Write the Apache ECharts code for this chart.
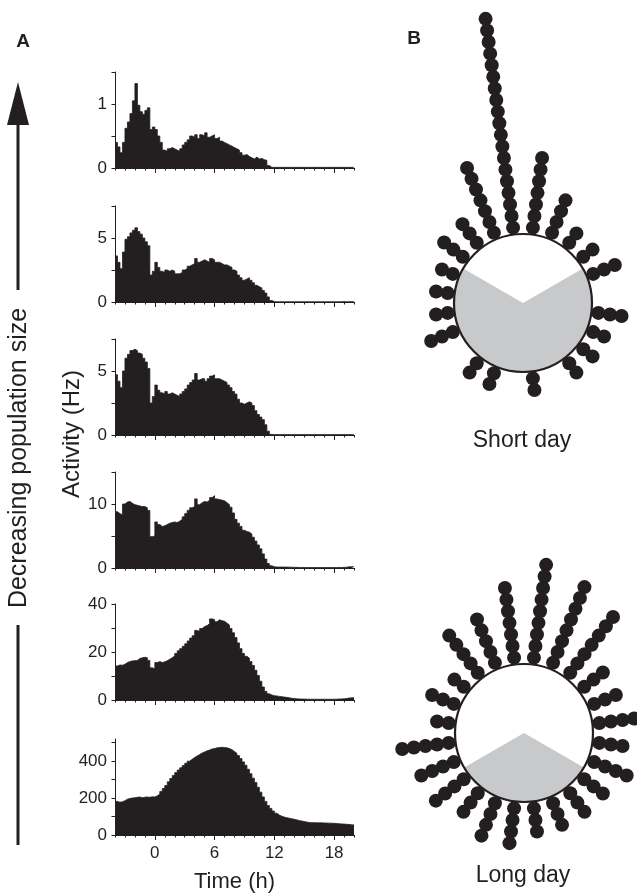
<!DOCTYPE html>
<html><head><meta charset="utf-8">
<script src="https://cdn.jsdelivr.net/npm/echarts@6/dist/echarts.min.js"></script>
<style>html,body{margin:0;padding:0;background:#fff}#c{width:637px;height:894px}</style>
</head><body><div id="c"></div>
<script>
// ---------- DATA ----------
const binStart = -4;          // h, first histogram bin edge
const binWidth = 0.25;        // h
const xTickLabels = [0, 6, 12, 18];

// Activity (Hz), panels top (smallest population) to bottom (largest)
const act1 = [0.40,0.33,0.24,0.40,0.62,0.72,0.85,1.05,1.32,0.98,0.88,0.84,0.90,0.94,0.60,0.64,
  0.60,0.50,0.40,0.28,0.26,0.30,0.32,0.30,0.28,0.26,0.30,0.36,0.40,0.44,0.50,0.48,
  0.52,0.46,0.52,0.50,0.55,0.48,0.50,0.52,0.46,0.48,0.42,0.40,0.38,0.36,0.34,0.32,
  0.30,0.28,0.24,0.20,0.21,0.18,0.16,0.14,0.17,0.14,0.15,0.13,0.12,0.04,0.01,0.01,
  0.01,0.01,0.01,0.01,0.01,0.01,0.01,0.01,0.01,0.01,0.01,0.01,0.01,0.01,0.01,0.01,
  0.01,0.01,0.01,0.01,0.01,0.01,0.01,0.01,0.01,0.01,0.01,0.01,0.01,0.01,0.01,0.01];
const act2 = [3.6,3.1,2.6,3.9,4.9,5.1,5.4,5.6,5.8,5.5,5.3,5.0,4.7,4.4,2.1,2.4,
  3.1,2.7,2.4,2.3,2.5,2.4,2.5,2.4,2.2,2.2,2.3,2.5,2.6,2.8,2.9,3.0,
  3.4,3.1,3.2,3.3,3.2,3.1,3.4,3.3,3.1,3.1,3.0,2.9,2.9,2.8,2.7,2.5,
  2.4,2.1,1.9,1.7,1.8,1.9,1.7,1.5,1.3,1.2,1.1,0.9,0.7,0.4,0.12,0.03,
  0.02,0.02,0.02,0.02,0.02,0.02,0.02,0.02,0.02,0.02,0.02,0.02,0.02,0.02,0.02,0.02,
  0.02,0.02,0.02,0.02,0.02,0.02,0.02,0.02,0.02,0.02,0.02,0.03,0.02,0.02,0.03,0.02];
const act3 = [4.7,4.2,3.7,5.0,6.0,6.3,6.6,6.7,6.6,6.4,6.3,6.0,5.7,5.2,2.5,3.0,
  3.9,3.5,3.3,3.2,3.4,3.2,3.3,3.2,3.1,3.0,3.2,3.4,3.6,3.9,4.1,4.3,
  4.8,4.3,4.4,4.4,4.2,4.4,4.6,4.7,4.4,4.4,4.3,4.2,4.1,3.9,3.7,3.4,
  3.2,2.8,2.5,2.4,2.5,2.6,2.5,2.3,1.9,1.6,1.4,1.2,0.8,0.3,0.05,0.03,
  0.03,0.03,0.03,0.03,0.03,0.03,0.03,0.03,0.03,0.03,0.03,0.03,0.03,0.03,0.03,0.03,
  0.03,0.03,0.03,0.03,0.03,0.03,0.03,0.03,0.03,0.03,0.03,0.03,0.03,0.03,0.03,0.03];
const act4 = [8.8,8.5,8.3,10.0,10.3,10.4,10.1,9.9,9.8,9.7,9.6,9.6,9.4,9.0,4.9,5.0,
  7.2,6.8,6.5,6.6,6.8,7.0,7.1,7.2,7.1,7.3,7.6,8.0,8.5,9.0,9.4,9.6,
  10.8,9.9,10.2,10.4,10.3,10.6,11.0,11.3,10.8,10.7,10.6,10.5,10.2,9.9,9.5,8.6,
  7.6,7.0,6.5,5.9,5.7,5.6,5.3,4.8,4.2,3.6,3.0,2.2,1.4,0.7,0.35,0.2,
  0.15,0.15,0.15,0.15,0.14,0.13,0.12,0.1,0.1,0.09,0.08,0.08,0.08,0.07,0.07,0.07,
  0.07,0.07,0.07,0.07,0.07,0.07,0.07,0.07,0.08,0.08,0.09,0.1,0.12,0.18,0.2,0.2];
const act5 = [14.2,14.6,14.5,14.9,15.6,16.0,16.3,16.4,16.5,17.3,17.6,17.8,17.6,16.5,13.4,13.0,
  15.6,16.0,15.6,15.9,16.4,17.0,17.6,18.4,19.4,20.5,21.4,22.4,23.4,24.6,25.8,26.8,
  29.0,28.6,29.8,30.6,31.0,31.8,33.8,33.5,32.6,33.4,33.0,32.8,32.0,31.2,29.8,28.0,
  26.0,23.8,21.4,19.4,18.2,17.4,16.0,14.4,12.4,10.2,7.8,5.4,3.6,2.6,2.1,1.8,
  1.7,1.5,1.4,1.2,1.1,0.9,0.7,0.6,0.5,0.45,0.4,0.38,0.35,0.33,0.32,0.3,
  0.3,0.3,0.3,0.3,0.3,0.3,0.3,0.32,0.35,0.4,0.45,0.5,0.6,0.8,0.9,0.9];
const act6 = [182,178,180,186,194,198,200,202,204,206,202,205,206,204,207,206,
  212,222,236,252,268,288,306,322,338,352,364,376,388,400,410,420,
  428,436,444,450,456,460,466,468,472,474,475,474,472,468,462,452,
  442,430,414,396,378,356,332,308,284,258,232,206,182,160,144,130,
  118,108,102,97,94,91,88,85,82,78,76,73,70,68,67,67,
  66,66,66,65,65,64,64,63,62,61,60,59,58,57,56,54];

const yMax = [1.5, 7.5, 7.5, 15, 40, 520];
const yTickValues = [[0,0.5,1,1.5],[0,2.5,5,7.5],[0,2.5,5,7.5],[0,5,10,15],[0,10,20,30,40],[0,100,200,300,400,500]];
const yLabelValues = [[0,1],[0,5],[0,5],[0,10],[0,20,40],[0,200,400]];

// Panel B: number of dots per 1-h bin (bin 0 = 0-1 h, clockwise from top)
const shortDayCounts = [7,4,2,2,3,0,3,2,2,2,0,2,0,2,2,0,3,2,2,2,3,3,7,19];
const longDayCounts  = [9,8,7,3,3,4,3,4,3,3,3,3,4,4,3,4,4,5,2,3,2,5,5,7];
const shortDayLD = [8, 16];   // light h, dark h
const longDayLD  = [16, 8];

// ---------- CHART ----------
const C = '#231f20';
const GRAY = '#c8c9cb';
const FONT = '"Liberation Sans", Arial, Helvetica, sans-serif';
const panels = [act1, act2, act3, act4, act5, act6];
const gridTops = [72, 206, 339, 472, 604, 739];

function toSteps(vals) {
  const d = vals.map((v, i) => [binStart + i * binWidth, v]);
  d.push([binStart + vals.length * binWidth, vals[vals.length - 1]]);
  return d;
}
function dots(counts) {
  const out = [];
  counts.forEach((n, k) => { for (let j = 0; j < n; j++) out.push([76 + 11.7 * j, k + 0.5]); });
  return out;
}

const grid = [], xAxis = [], yAxis = [], series = [];
panels.forEach((vals, i) => {
  grid.push({ left: 115, width: 239, top: gridTops[i], height: 96 });
  xAxis.push({
    gridIndex: i, type: 'value', position: 'bottom', min: -4, max: 20, interval: 1,
    axisLine: { show: true, onZero: false, lineStyle: { color: C, width: 1 } },
    axisTick: { show: true, length: 2.5, lineStyle: { color: C, width: 1 } },
    axisLabel: { show: false }, splitLine: { show: false }
  });
  xAxis.push({
    gridIndex: i, type: 'value', position: 'bottom', min: -4, max: 20,
    axisLine: { show: false, onZero: false },
    axisTick: { show: true, customValues: xTickLabels, length: 5, lineStyle: { color: C, width: 1 } },
    axisLabel: { show: i === 5, customValues: xTickLabels, fontSize: 17, color: C, margin: 10, fontFamily: FONT },
    splitLine: { show: false },
    name: i === 5 ? 'Time (h)' : '', nameLocation: 'middle', nameGap: 36,
    nameTextStyle: { fontSize: 22, color: C, fontFamily: FONT }
  });
  yAxis.push({
    gridIndex: i, type: 'value', position: 'left', min: 0, max: yMax[i],
    axisLine: { show: true, onZero: false, lineStyle: { color: C, width: 1 } },
    axisTick: { show: true, customValues: yTickValues[i], length: 3.5, lineStyle: { color: C, width: 1 } },
    axisLabel: { customValues: yLabelValues[i], fontSize: 17, color: C, margin: 8, fontFamily: FONT },
    splitLine: { show: false }
  });
  series.push({
    type: 'line', xAxisIndex: 2 * i, yAxisIndex: i, step: 'end',
    data: toSteps(vals), symbol: 'none', showSymbol: false, silent: true,
    lineStyle: { color: C, width: 0.8 }, areaStyle: { color: C, opacity: 1 }
  });
});

const circles = [
  { center: [523, 303], counts: shortDayCounts, ld: shortDayLD },
  { center: [524, 733], counts: longDayCounts, ld: longDayLD }
];
const polar = [], angleAxis = [], radiusAxis = [];
circles.forEach((c, p) => {
  polar.push({ center: c.center, radius: 300 });
  angleAxis.push({ polarIndex: p, type: 'value', min: 0, max: 24, startAngle: 90, clockwise: true, show: false });
  radiusAxis.push({ polarIndex: p, type: 'value', min: 0, max: 300, show: false });
  series.push({
    type: 'pie', center: c.center, radius: 69, startAngle: 90 + c.ld[0] * 7.5, clockwise: true,
    data: [{ value: c.ld[0], name: 'light', itemStyle: { color: '#ffffff' } },
           { value: c.ld[1], name: 'dark', itemStyle: { color: GRAY } }],
    label: { show: false }, labelLine: { show: false }, silent: true, z: 3,
    itemStyle: { borderWidth: 0 }
  });
  series.push({
    type: 'pie', center: c.center, radius: 69, data: [{ value: 1 }],
    itemStyle: { color: 'rgba(0,0,0,0)', borderColor: C, borderWidth: 2.2 },
    label: { show: false }, labelLine: { show: false }, silent: true, z: 4
  });
  series.push({
    type: 'scatter', coordinateSystem: 'polar', polarIndex: p, data: dots(c.counts),
    symbol: 'circle', symbolSize: 14, itemStyle: { color: C, opacity: 1 }, silent: true, z: 2
  });
});

const graphic = [
  { type: 'polygon', shape: { points: [[18, 82], [7, 125], [29, 125]] }, style: { fill: C } },
  { type: 'rect', shape: { x: 16.5, y: 124, width: 3, height: 166 }, style: { fill: C } },
  { type: 'rect', shape: { x: 16.5, y: 625, width: 3, height: 220 }, style: { fill: C } },
  { type: 'text', x: 19, y: 458, rotation: Math.PI / 2,
    style: { text: 'Decreasing population size', font: '25px ' + FONT, fill: C, textAlign: 'center', textVerticalAlign: 'middle' } },
  { type: 'text', x: 72, y: 434, rotation: Math.PI / 2,
    style: { text: 'Activity (Hz)', font: '24px ' + FONT, fill: C, textAlign: 'center', textVerticalAlign: 'middle' } },
  { type: 'text', x: 23, y: 42, style: { text: 'A', font: 'bold 19px ' + FONT, fill: C, textAlign: 'center', textVerticalAlign: 'middle' } },
  { type: 'text', x: 414, y: 39, style: { text: 'B', font: 'bold 19px ' + FONT, fill: C, textAlign: 'center', textVerticalAlign: 'middle' } },
  { type: 'text', x: 522, y: 441, style: { text: 'Short day', font: '23px ' + FONT, fill: C, textAlign: 'center', textVerticalAlign: 'middle' } },
  { type: 'text', x: 523, y: 876, style: { text: 'Long day', font: '23px ' + FONT, fill: C, textAlign: 'center', textVerticalAlign: 'middle' } }
];

const chart = echarts.init(document.getElementById('c'), null, { renderer: 'canvas' });
chart.setOption({
  animation: false, backgroundColor: '#ffffff',
  grid, xAxis, yAxis, polar, angleAxis, radiusAxis, series, graphic
});
</script></body></html>
